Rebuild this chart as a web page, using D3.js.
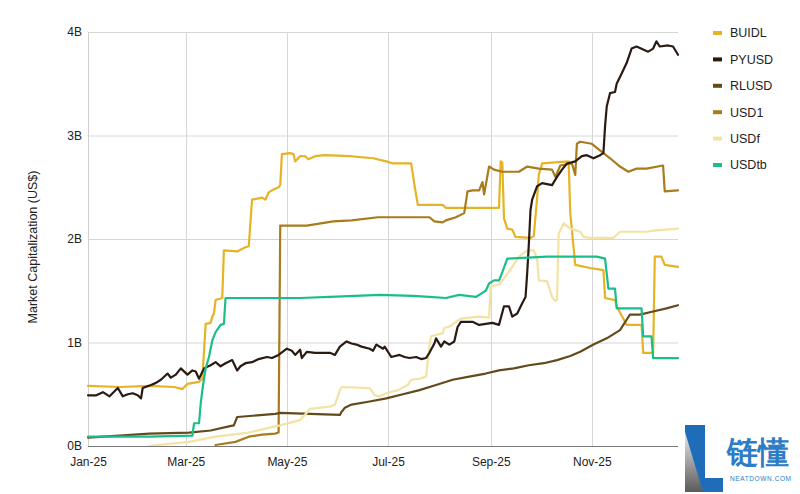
<!DOCTYPE html>
<html>
<head>
<meta charset="utf-8">
<script src="https://cdn.jsdelivr.net/npm/d3@7"></script>
<style>
  html, body { margin: 0; padding: 0; background: #fff; }
  svg { display: block; }
  text { font-family: "Liberation Sans", Arial, sans-serif; }
</style>
</head>
<body>
<svg id="chart" width="800" height="494"></svg>
<script>
// ---------- DATA (values in US$ billions, dates in 2025) ----------
const seriesNames = ["BUIDL", "PYUSD", "RLUSD", "USD1", "USDf", "USDtb"];

const buidl = [
  ["01-01",0.58],["01-20",0.57],["02-07",0.58],["02-22",0.57],["02-27",0.55],["03-02",0.60],
  ["03-09",0.62],["03-11",0.65],["03-13",1.18],["03-16",1.19],["03-17",1.25],["03-18",1.28],
  ["03-19",1.41],["03-23",1.43],["03-24",1.89],["04-01",1.88],["04-06",1.92],["04-08",1.93],
  ["04-10",2.38],["04-16",2.40],["04-18",2.38],["04-20",2.45],["04-22",2.47],["04-26",2.50],
  ["04-27",2.52],["04-28",2.82],["05-03",2.83],["05-05",2.82],["05-06",2.75],["05-09",2.80],
  ["05-12",2.80],["05-14",2.77],["05-18",2.80],["05-24",2.81],["06-08",2.80],["06-22",2.78],
  ["06-30",2.75],["07-04",2.73],["07-15",2.73],["07-17",2.52],["07-19",2.33],["08-03",2.33],
  ["08-05",2.30],["09-06",2.30],["09-07",2.75],["09-08",2.74],["09-09",2.20],["09-11",2.10],
  ["09-14",2.09],["09-16",2.02],["09-25",2.01],["09-27",2.03],["09-29",2.40],["09-30",2.62],
  ["10-02",2.73],["10-10",2.74],["10-18",2.75],["10-19",2.25],["10-22",1.75],["10-31",1.72],
  ["11-08",1.70],["11-09",1.43],["11-15",1.41],["11-16",1.35],["11-21",1.20],["11-22",1.17],
  ["12-01",1.17],["12-02",0.90],["12-08",0.90],["12-09",1.83],["12-13",1.83],["12-15",1.75],
  ["12-23",1.73]
];

const pyusd = [
  ["01-01",0.49],["01-06",0.49],["01-10",0.52],["01-14",0.48],["01-19",0.56],["01-22",0.48],
  ["01-25",0.50],["01-28",0.51],["01-31",0.49],["02-02",0.46],["02-03",0.56],["02-08",0.59],
  ["02-11",0.61],["02-14",0.64],["02-18",0.70],["02-20",0.66],["02-23",0.69],["02-26",0.75],
  ["03-02",0.69],["03-05",0.73],["03-07",0.72],["03-09",0.65],["03-12",0.75],["03-16",0.78],
  ["03-19",0.81],["03-22",0.77],["03-25",0.80],["03-29",0.83],["04-01",0.73],["04-03",0.77],
  ["04-06",0.80],["04-10",0.81],["04-14",0.84],["04-19",0.86],["04-22",0.85],["04-26",0.88],
  ["05-01",0.94],["05-04",0.92],["05-06",0.88],["05-09",0.93],["05-10",0.85],["05-13",0.91],
  ["05-18",0.90],["05-22",0.90],["05-27",0.90],["05-30",0.88],["06-02",0.96],["06-06",1.01],
  ["06-09",0.99],["06-12",0.98],["06-15",0.96],["06-20",0.94],["06-22",0.92],["06-24",0.98],
  ["06-28",0.94],["06-29",0.96],["07-03",0.86],["07-08",0.88],["07-11",0.86],["07-14",0.85],
  ["07-18",0.86],["07-21",0.84],["07-24",0.85],["07-26",0.90],["07-29",0.99],["07-30",1.04],
  ["08-02",0.96],["08-04",1.01],["08-07",0.98],["08-10",1.01],["08-12",1.15],["08-14",1.20],
  ["08-21",1.20],["08-25",1.17],["08-29",1.18],["09-02",1.19],["09-06",1.17],["09-09",1.35],
  ["09-12",1.35],["09-14",1.25],["09-17",1.28],["09-20",1.38],["09-22",1.44],["09-23",1.67],
  ["09-24",1.95],["09-25",2.28],["09-26",2.38],["09-29",2.51],["10-02",2.54],["10-08",2.52],
  ["10-11",2.60],["10-14",2.67],["10-17",2.73],["10-22",2.75],["10-26",2.80],["10-29",2.81],
  ["11-02",2.78],["11-06",2.81],["11-08",2.83],["11-09",3.09],["11-10",3.28],["11-12",3.41],
  ["11-15",3.42],["11-16",3.50],["11-19",3.60],["11-22",3.70],["11-25",3.84],["11-28",3.86],
  ["12-02",3.83],["12-05",3.81],["12-08",3.84],["12-10",3.91],["12-12",3.86],["12-17",3.87],
  ["12-20",3.86],["12-23",3.78]
];

const rlusd = [
  ["01-01",0.08],["01-20",0.10],["02-07",0.12],["03-03",0.13],["03-16",0.15],["03-27",0.19],
  ["03-30",0.20],["04-01",0.28],["04-24",0.31],["04-27",0.32],["06-02",0.30],["06-03",0.33],
  ["06-05",0.37],["06-09",0.40],["06-20",0.43],["06-30",0.46],["07-10",0.50],["07-20",0.54],
  ["07-30",0.59],["08-09",0.64],["08-19",0.67],["08-29",0.70],["09-06",0.73],["09-15",0.75],
  ["09-24",0.78],["10-03",0.80],["10-11",0.83],["10-19",0.87],["10-25",0.91],["11-02",0.98],
  ["11-10",1.04],["11-18",1.12],["11-22",1.22],["11-24",1.27],["11-30",1.27],["12-08",1.30],
  ["12-16",1.33],["12-23",1.36]
];

const usd1 = [
  ["03-19",0.01],["03-31",0.04],["04-08",0.09],["04-16",0.11],["04-24",0.12],["04-26",0.13],
  ["04-27",2.13],["05-13",2.13],["05-29",2.17],["06-09",2.18],["06-25",2.21],["07-26",2.21],
  ["07-29",2.17],["08-03",2.16],["08-05",2.18],["08-11",2.21],["08-16",2.25],["08-18",2.46],
  ["08-21",2.47],["08-25",2.47],["08-27",2.55],["08-28",2.43],["08-31",2.70],["09-03",2.67],
  ["09-08",2.65],["09-18",2.65],["09-23",2.70],["09-30",2.68],["10-08",2.67],["10-10",2.60],
  ["10-13",2.71],["10-20",2.73],["10-22",2.62],["10-23",2.92],["10-25",2.94],["11-01",2.92],
  ["11-04",2.88],["11-08",2.83],["11-12",2.78],["11-18",2.70],["11-23",2.65],["11-28",2.68],
  ["12-04",2.68],["12-14",2.71],["12-15",2.46],["12-23",2.47]
];

const usdf = [
  ["02-07",0.00],["02-13",0.01],["03-03",0.04],["03-19",0.09],["04-08",0.13],["04-24",0.19],
  ["04-27",0.20],["05-09",0.25],["05-10",0.27],["05-13",0.32],["05-15",0.36],["05-27",0.38],
  ["05-30",0.40],["06-02",0.54],["06-03",0.57],["06-20",0.56],["06-23",0.49],["06-26",0.48],
  ["06-30",0.51],["07-07",0.54],["07-13",0.59],["07-15",0.64],["07-20",0.65],["07-24",0.67],
  ["07-26",0.96],["07-27",1.06],["08-03",1.09],["08-04",1.14],["08-08",1.16],["08-11",1.20],
  ["08-14",1.23],["08-25",1.25],["08-31",1.24],["09-01",1.54],["09-06",1.56],["09-10",1.64],
  ["09-14",1.73],["09-18",1.83],["09-23",1.89],["09-27",1.89],["09-29",1.81],["09-30",1.60],
  ["10-05",1.59],["10-08",1.44],["10-10",1.40],["10-11",1.41],["10-12",2.05],["10-15",2.15],
  ["10-19",2.10],["10-25",2.07],["10-27",2.02],["10-31",2.01],["11-14",2.01],["11-18",2.07],
  ["12-04",2.07],["12-08",2.08],["12-23",2.10]
];

const usdtb = [
  ["01-01",0.09],["02-07",0.09],["03-05",0.10],["03-06",0.22],["03-09",0.22],["03-10",0.41],
  ["03-11",0.54],["03-12",0.65],["03-13",0.75],["03-15",0.86],["03-17",1.02],["03-19",1.10],
  ["03-22",1.17],["03-24",1.18],["03-25",1.43],["05-09",1.43],["05-27",1.44],["06-26",1.46],
  ["07-16",1.45],["07-26",1.44],["08-05",1.43],["08-13",1.46],["08-23",1.44],["08-27",1.48],
  ["08-29",1.50],["08-31",1.57],["09-03",1.60],["09-06",1.60],["09-08",1.68],["09-11",1.81],
  ["10-05",1.83],["11-04",1.83],["11-09",1.81],["11-11",1.52],["11-15",1.52],["11-16",1.33],
  ["12-01",1.33],["12-02",1.06],["12-07",1.06],["12-08",0.85],["12-23",0.85]
];

const yTickValues = [0, 1, 2, 3, 4];
const xTickDates = ["2025-01-01","2025-03-01","2025-05-01","2025-07-01","2025-09-01","2025-11-01"];
const xDomain = ["2025-01-01", "2025-12-23"];
const yAxisTitle = "Market Capitalization (US$)";

// ---------- STYLES ----------
const seriesColors = ["#E5B325", "#2A1A12", "#634A1C", "#A87B1C", "#F3E3A3", "#1BBE8A"];
const drawOrder = [0, 3, 2, 4, 1, 5];

// ---------- CHART ----------
const parse = d3.timeParse("%Y-%m-%d");
const allSeries = [buidl, pyusd, rlusd, usd1, usdf, usdtb].map(arr =>
  arr.map(([d, v]) => ({ date: parse("2025-" + d), value: v })));

const svg = d3.select("#chart");
const m = { left: 88, right: 678, top: 32, bottom: 446 };

const x = d3.scaleTime().domain(xDomain.map(parse)).range([m.left, m.right]);
const y = d3.scaleLinear().domain([0, 4]).range([m.bottom, m.top]);

// gridlines
const grid = svg.append("g");
grid.selectAll("line.h").data(yTickValues.filter(v => v > 0)).enter().append("line")
  .attr("x1", m.left).attr("x2", m.right)
  .attr("y1", d => y(d) + 0.5).attr("y2", d => y(d) + 0.5)
  .attr("stroke", "#d6d6d6").attr("stroke-width", 1);
grid.selectAll("line.v").data(xTickDates.map(parse)).enter().append("line")
  .attr("x1", d => Math.round(x(d)) + 0.5).attr("x2", d => Math.round(x(d)) + 0.5)
  .attr("y1", m.top).attr("y2", m.bottom)
  .attr("stroke", "#d6d6d6").attr("stroke-width", 1);

// y axis
const yAxis = svg.append("g").attr("transform", `translate(${m.left},0)`)
  .call(d3.axisLeft(y).tickValues(yTickValues).tickFormat(d => d + "B").tickSize(0).tickPadding(6));
yAxis.select(".domain").remove();
yAxis.selectAll("text").attr("font-size", 12).attr("fill", "#222")
  .attr("font-family", '"Liberation Sans", Arial, sans-serif');

// x axis
const xAxis = svg.append("g").attr("transform", `translate(0,${m.bottom})`)
  .call(d3.axisBottom(x).tickValues(xTickDates.map(parse)).tickFormat(d3.timeFormat("%b-%y")).tickSize(0).tickPadding(11));
xAxis.select(".domain").remove();
xAxis.selectAll("text").attr("font-size", 12).attr("fill", "#222")
  .attr("font-family", '"Liberation Sans", Arial, sans-serif');

// axis lines
svg.append("line").attr("x1", m.left + 0.5).attr("x2", m.left + 0.5)
  .attr("y1", m.top).attr("y2", m.bottom).attr("stroke", "#cfcfcf");

// y title
svg.append("text")
  .attr("transform", `translate(37,${(m.top + m.bottom) / 2 + 8}) rotate(-90)`)
  .attr("text-anchor", "middle").attr("font-size", 12.5).attr("fill", "#222")
  .text(yAxisTitle);

// lines
const line = d3.line().x(d => x(d.date)).y(d => y(d.value));
const linesG = svg.append("g");
drawOrder.forEach(i => {
  linesG.append("path").datum(allSeries[i])
    .attr("d", line).attr("fill", "none")
    .attr("stroke", seriesColors[i]).attr("stroke-width", 2.2)
    .attr("stroke-linejoin", "round").attr("stroke-linecap", "round");
});

svg.append("line").attr("x1", m.left).attr("x2", m.right)
  .attr("y1", m.bottom + 0.5).attr("y2", m.bottom + 0.5).attr("stroke", "#7a7a7a");

// legend
const legend = svg.append("g").attr("transform", "translate(713,33)");
seriesNames.forEach((name, i) => {
  const g = legend.append("g").attr("transform", `translate(0,${i * 26.4})`);
  g.append("rect").attr("x", 0).attr("y", -2).attr("width", 9).attr("height", 4)
    .attr("fill", seriesColors[i]);
  g.append("text").attr("x", 17).attr("y", 0).attr("dy", "0.35em")
    .attr("font-size", 12.5).attr("fill", "#222").text(name);
});

// watermark logo
const logo = svg.append("g");
const defs = svg.append("defs");
const grad = defs.append("linearGradient").attr("id", "lg").attr("x1", "0").attr("y1", "0").attr("x2", "0").attr("y2", "1");
grad.append("stop").attr("offset", "0").attr("stop-color", "#e8e8e8");
grad.append("stop").attr("offset", "1").attr("stop-color", "#5a5a5a");
logo.append("path").attr("d", "M685,425 L705,425 L705,478 L723,478 L723,492 L685,492 Z").attr("fill", "#1F6DB8");
logo.append("path").attr("d", "M685,432 L703,492 L685,492 Z").attr("fill", "url(#lg)");
logo.append("text").attr("x", 727).attr("y", 463)
  .attr("font-family", '"Noto Sans CJK SC", sans-serif').attr("font-size", 31).attr("font-weight", 700)
  .attr("fill", "#2C7CC6").text("链懂");
logo.append("text").attr("x", 730).attr("y", 481)
  .attr("font-family", '"DejaVu Sans", sans-serif').attr("font-size", 6.5).attr("letter-spacing", 0.6)
  .attr("fill", "#2C7CC6").text("NEATDOWN.COM");
</script>
</body>
</html>
